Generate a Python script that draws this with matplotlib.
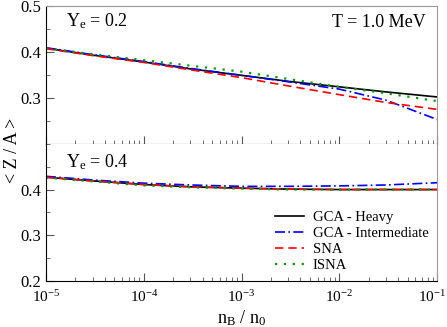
import matplotlib
matplotlib.use("Agg")
import matplotlib.pyplot as plt
import matplotlib.transforms as mtransforms
from matplotlib.ticker import LogLocator, NullFormatter, MultipleLocator

plt.rcParams["font.family"] = ["Liberation Serif", "DejaVu Serif"]
plt.rcParams["mathtext.fontset"] = "custom"
plt.rcParams["mathtext.rm"] = "Liberation Serif"
plt.rcParams["mathtext.it"] = "Liberation Serif"

# n_B / n_0 sample points
nb = [1e-5, 3e-5, 1e-4, 3e-4, 1e-3, 3e-3, 1e-2, 3e-2, 1e-1]

# Y_e = 0.2
heavy_02 = [0.408, 0.393, 0.378, 0.363, 0.349, 0.336, 0.324, 0.313, 0.302]
inter_02 = [0.409, 0.394, 0.379, 0.364, 0.349, 0.335, 0.319, 0.295, 0.253]
sna_02 = [0.407, 0.392, 0.377, 0.361, 0.344, 0.326, 0.307, 0.290, 0.275]
isna_02 = [0.408, 0.395, 0.382, 0.370, 0.357, 0.341, 0.324, 0.310, 0.293]

# Y_e = 0.4
heavy_04 = [0.427, 0.419, 0.411, 0.406, 0.403, 0.401, 0.400, 0.400, 0.400]
inter_04 = [0.429, 0.421, 0.414, 0.410, 0.407, 0.407, 0.408, 0.410, 0.415]
sna_04 = [0.427, 0.419, 0.411, 0.406, 0.403, 0.401, 0.400, 0.400, 0.400]
isna_04 = [0.426, 0.418, 0.409, 0.405, 0.402, 0.400, 0.400, 0.400, 0.400]

labels = ["GCA - Heavy", "GCA - Intermediate", "SNA", "ISNA"]
colors = ["black", "#0000ff", "#ff0000", "#00a000"]
styles = ["-", (0, (6, 2, 1, 2)), (0, (5, 3)), (0, (1, 3))]
widths = [1.2, 1.2, 1.2, 1.6]

fig = plt.figure(figsize=(4.47, 3.27), dpi=100)
ax_top = fig.add_axes([0.103, 0.560, 0.875, 0.422])
ax_bot = fig.add_axes([0.103, 0.141, 0.875, 0.419], sharex=ax_top)

for ax, series in [(ax_top, [heavy_02, inter_02, sna_02, isna_02]),
                   (ax_bot, [heavy_04, inter_04, sna_04, isna_04])]:
    for ys, lab, c, ls, w in zip(series, labels, colors, styles, widths):
        ax.plot(nb, ys, color=c, linestyle=ls, lw=w, label=lab)
    ax.set_xscale("log")
    ax.set_xlim(1e-5, 1e-1)
    ax.set_ylim(0.2, 0.5)
    ax.yaxis.set_major_locator(MultipleLocator(0.1))
    ax.yaxis.set_minor_locator(MultipleLocator(0.05))
    ax.xaxis.set_major_locator(LogLocator(base=10))
    ax.xaxis.set_minor_locator(LogLocator(base=10, subs=range(2, 10)))
    ax.xaxis.set_minor_formatter(NullFormatter())
    ax.tick_params(axis="both", which="both", direction="in", top=False,
                   right=False, labelsize=12, color="#555555")
    ax.tick_params(axis="both", which="major", length=6)
    ax.tick_params(axis="both", which="minor", length=3)
    ax.tick_params(axis="x", which="major", pad=6, labelsize=11)
    ax.spines["right"].set_color("#999999")
    ax.spines["top"].set_color("#999999")

ax_top.spines["bottom"].set_color("black")
ax_bot.spines["top"].set_visible(False)
ax_top.tick_params(labelbottom=False)
ax_top.set_yticks([0.3, 0.4, 0.5])
ax_bot.set_yticks([0.2, 0.3, 0.4])
ax_top.set_yticklabels(["0.3", "0.4", "0.5"])
ax_bot.set_yticklabels(["0.2", "0.3", "0.4"])

ax_bot.set_xticks([1e-5, 1e-4, 1e-3, 1e-2, 1e-1])
ax_bot.set_xticklabels([r"10$^{-5}$", r"10$^{-4}$", r"10$^{-3}$",
                        r"10$^{-2}$", r"10$^{-1}$"])
last = ax_bot.get_xticklabels()[-1]
last.set_transform(last.get_transform() +
                   mtransforms.ScaledTranslation(-5 / 100, 0,
                                                 fig.dpi_scale_trans))

ax_top.text(0.05, 0.85, r"Y$_{\rm e}$ = 0.2", transform=ax_top.transAxes,
            fontsize=13)
ax_top.text(0.97, 0.85, "T = 1.0 MeV", transform=ax_top.transAxes,
            fontsize=13, ha="right")
ax_bot.text(0.05, 0.83, r"Y$_{\rm e}$ = 0.4", transform=ax_bot.transAxes,
            fontsize=13)

ax_bot.legend(loc="lower right", frameon=False, fontsize=10.5,
              handlelength=2.0, handletextpad=0.6, labelspacing=0.2,
              borderaxespad=0.2, bbox_to_anchor=(1.0, 0.0))

fig.text(0.028, 0.54, "< Z / A >", rotation=90, ha="center", va="center",
         fontsize=13)
fig.text(0.54, 0.028, r"n$_{\rm B}$ / n$_0$", ha="center", va="center",
         fontsize=13)

fig.savefig("out.png", dpi=100)
